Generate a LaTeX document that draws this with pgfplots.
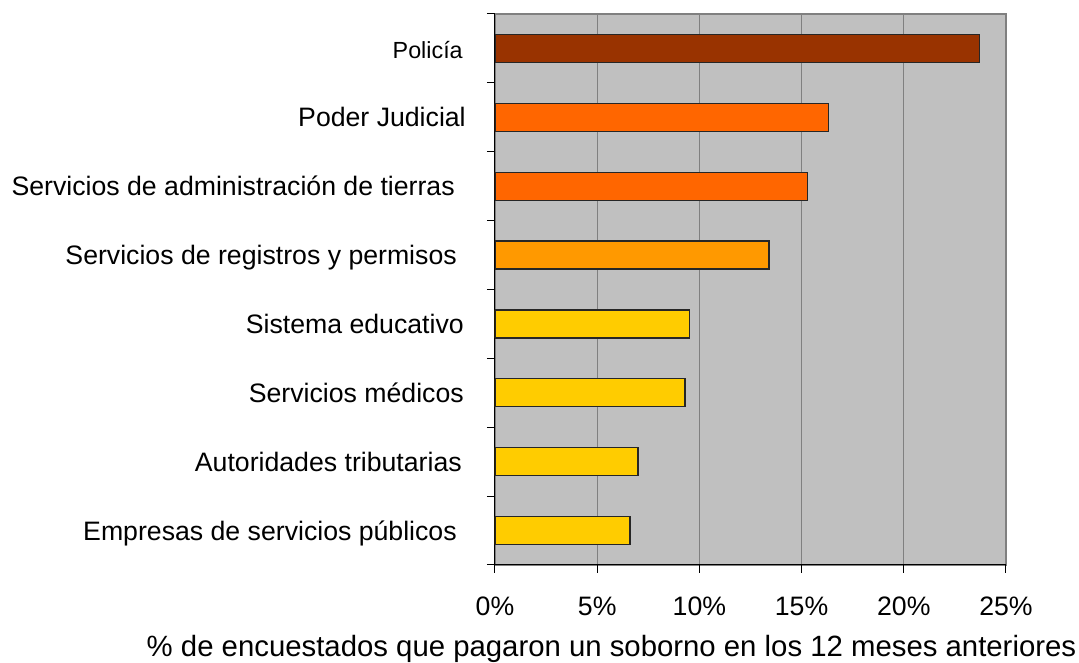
\documentclass[border=0pt]{standalone}
\usepackage{pgfplots}
\pgfplotsset{compat=1.18}
\usepackage{fontspec}
\setmainfont{Liberation Sans}
\definecolor{bg}{HTML}{C0C0C0}
\definecolor{gridc}{HTML}{808080}
\definecolor{c1}{HTML}{993300}
\definecolor{c2}{HTML}{FF6600}
\definecolor{c3}{HTML}{FF9900}
\definecolor{c4}{HTML}{FFCC00}
\begin{document}
\begin{tikzpicture}
\useasboundingbox (0pt,0pt) rectangle (809.25pt,497.25pt);
\begin{axis}[
  at={(371.25pt,73.5pt)}, anchor=south west,
  scale only axis, width=383.25pt, height=413.25pt,
  xmin=0, xmax=25, ymin=0.5, ymax=8.5,
  axis background/.style={fill=bg, draw=gridc, line width=0.9pt},
  axis x line*=bottom, axis y line*=left,
  axis line style={black, line width=0.75pt, -},
  xbar, bar width=21pt, bar shift=0pt,
  xtick={0,5,10,15,20,25},
  xticklabels={0\%,5\%,10\%,15\%,20\%,25\%},
  xmajorgrids, grid style={gridc, line width=0.9pt},
  tick align=outside, major tick length=6pt,
  tick style={black, line width=0.75pt},
  ytick={0.5,1.5,...,8.5},
  yticklabels={},
  extra y ticks={1,2,3,4,5,6,7,8},
  extra y tick labels={
    {Empresas de servicios públicos\hspace*{6.75pt}},
    {Autoridades tributarias\hspace*{3pt}},
    {Servicios médicos\hspace*{1.5pt}},
    {Sistema educativo\hspace*{1.5pt}},
    {Servicios de registros y permisos\hspace*{6.75pt}},
    {Servicios de administración de tierras\hspace*{8.25pt}},
    {Poder Judicial},
    {\fontsize{17.5}{20}\selectfont Policía\hspace*{2.25pt}}},
  extra y tick style={tick style={draw=none},
    yticklabel style={font=\fontsize{20}{24}\selectfont, anchor=base east, inner sep=0pt, xshift=-15.75pt, yshift=-7.2pt}},
  xticklabel style={font=\fontsize{20}{24}\selectfont, anchor=north, inner sep=0pt, yshift=-18pt},
  /pgf/number format/assume math mode=true,
  xlabel={\% de encuestados que pagaron un soborno en los 12 meses anteriores},
  xlabel style={font=\fontsize{22}{26}\selectfont, at={(rel axis cs:0.228,-0.1665)}, anchor=base, inner sep=0pt},
]
\addplot[fill=c4, draw=black!85, line width=1pt] coordinates {(6.6,1) (7.0,2) (9.3,3) (9.5,4)};
\addplot[fill=c3, draw=black!85, line width=1pt] coordinates {(13.4,5)};
\addplot[fill=c2, draw=black!85, line width=1pt] coordinates {(15.3,6) (16.3,7)};
\addplot[fill=c1, draw=black!85, line width=1pt] coordinates {(23.7,8)};
\end{axis}
\end{tikzpicture}
\end{document}
